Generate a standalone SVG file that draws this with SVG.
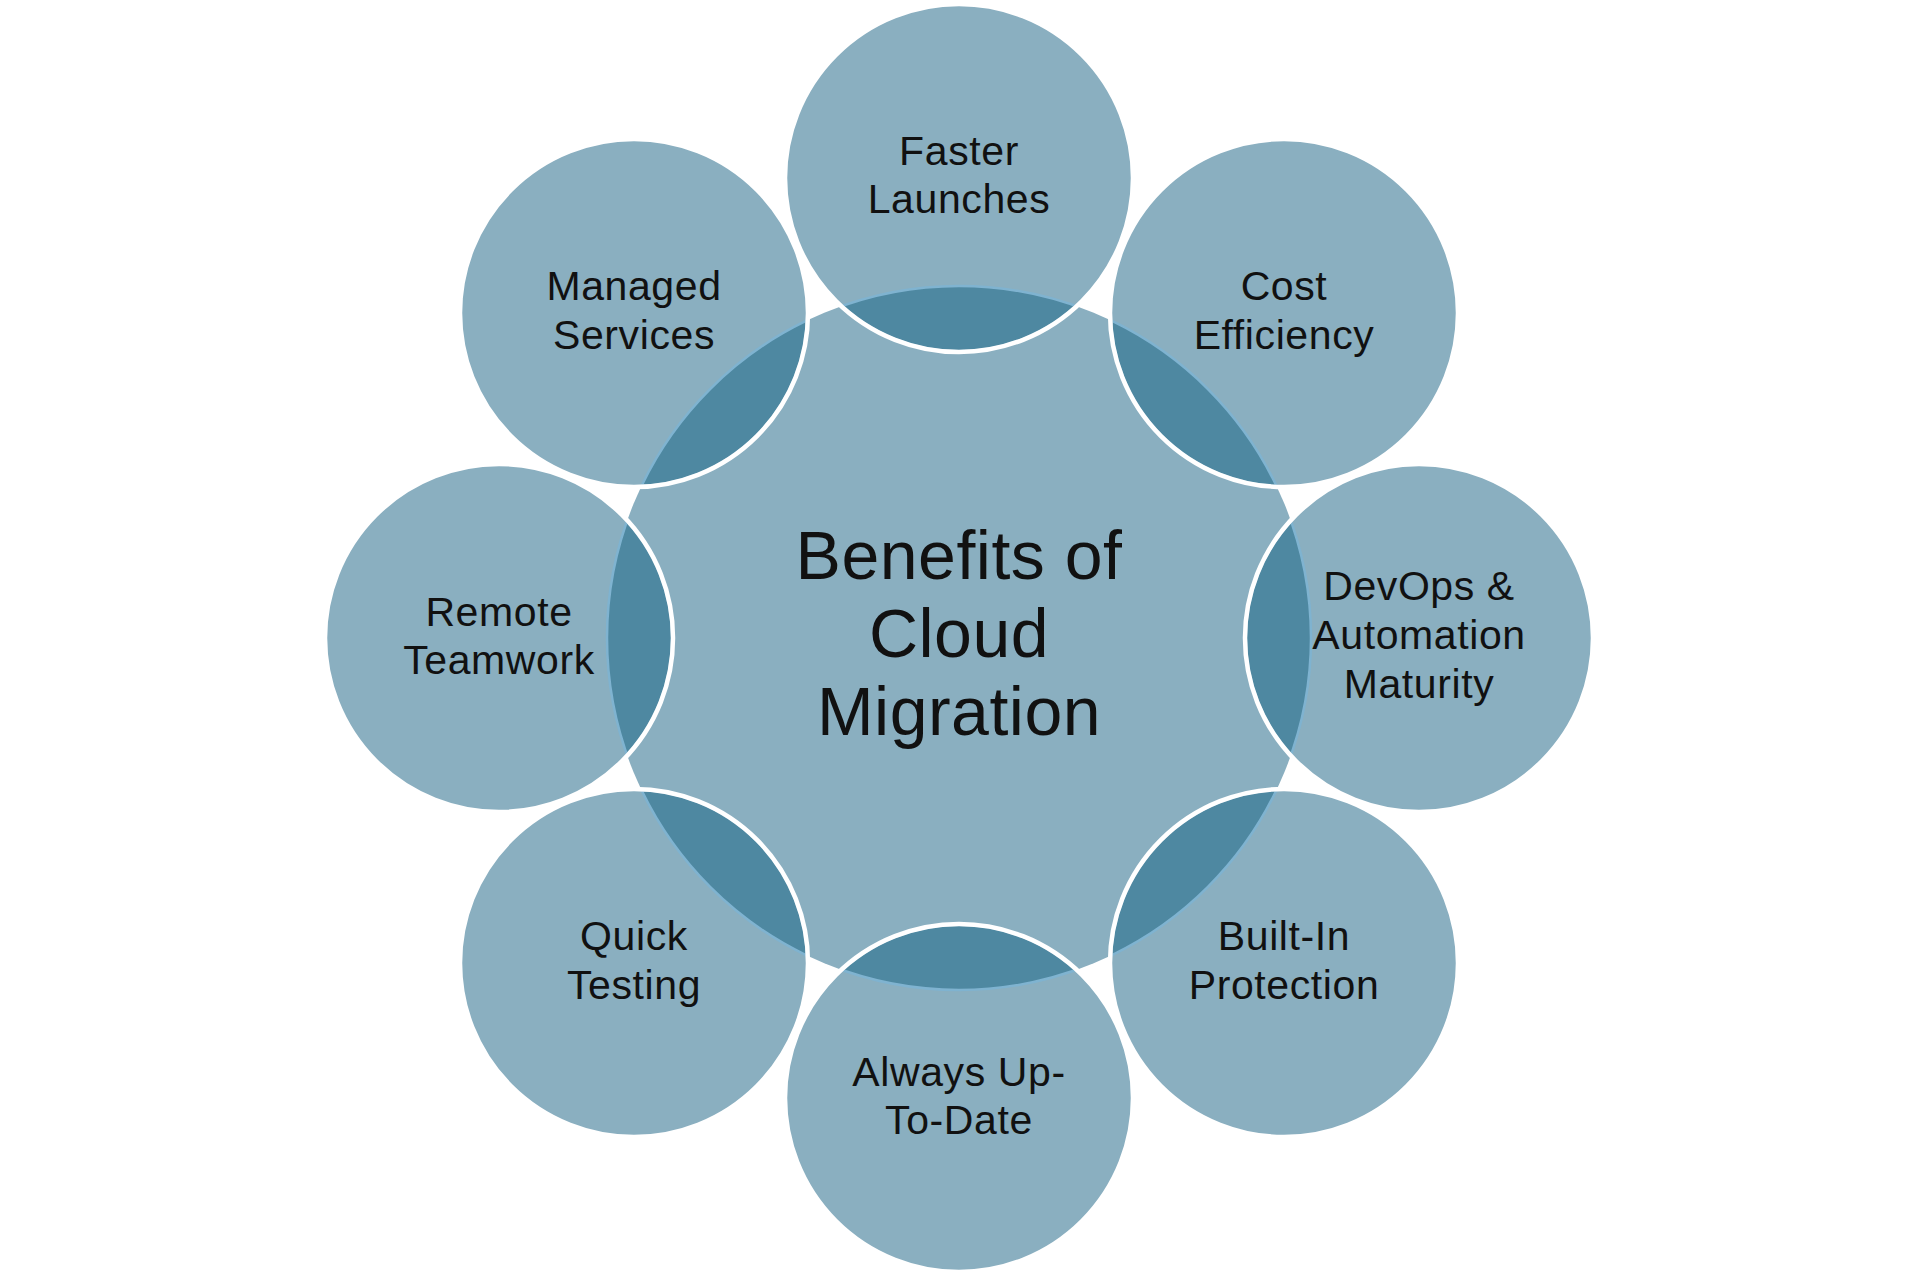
<svg xmlns="http://www.w3.org/2000/svg" width="1920" height="1283" viewBox="0 0 1920 1283">
<style>
.fill{fill:#8aafc0}
.lens{fill:#4e88a1}
.edge{fill:none;stroke:#7fb3d0;stroke-width:2.5}
.ring{fill:none;stroke:#ffffff;stroke-width:4.5}
.lbl{font-family:"Liberation Sans",Arial,sans-serif;font-size:41px;letter-spacing:0.6px;fill:#111111;text-anchor:middle}
.title{font-family:"Liberation Sans",Arial,sans-serif;font-size:68px;letter-spacing:0.5px;fill:#111111;text-anchor:middle}
</style>
<defs>
<circle id="hubShape" cx="959" cy="638" r="352"/>
<clipPath id="c0"><circle cx="959" cy="178" r="172"/></clipPath>
<clipPath id="c1"><circle cx="1284" cy="313" r="172"/></clipPath>
<clipPath id="c2"><circle cx="1419" cy="638" r="172"/></clipPath>
<clipPath id="c3"><circle cx="1284" cy="963" r="172"/></clipPath>
<clipPath id="c4"><circle cx="959" cy="1098" r="172"/></clipPath>
<clipPath id="c5"><circle cx="634" cy="963" r="172"/></clipPath>
<clipPath id="c6"><circle cx="499" cy="638" r="172"/></clipPath>
<clipPath id="c7"><circle cx="634" cy="313" r="172"/></clipPath>
</defs>
<rect width="1920" height="1283" fill="#ffffff"/>

<g id="hub">
<use href="#hubShape" class="fill"/>
<text class="title" x="959" y="579">Benefits of</text>
<text class="title" x="959" y="657">Cloud</text>
<text class="title" x="959" y="735">Migration</text>
</g>

<g id="node-faster-launches">
<circle class="fill" cx="959" cy="178" r="174"/>
<g clip-path="url(#c0)"><use href="#hubShape" class="lens"/><use href="#hubShape" class="edge"/></g>
<circle class="ring" cx="959" cy="178" r="174"/>
<text class="lbl" x="959" y="165">Faster</text>
<text class="lbl" x="959" y="213">Launches</text>
</g>

<g id="node-cost-efficiency">
<circle class="fill" cx="1284" cy="313" r="174"/>
<g clip-path="url(#c1)"><use href="#hubShape" class="lens"/><use href="#hubShape" class="edge"/></g>
<circle class="ring" cx="1284" cy="313" r="174"/>
<text class="lbl" x="1284" y="300">Cost</text>
<text class="lbl" x="1284" y="349">Efficiency</text>
</g>

<g id="node-devops">
<circle class="fill" cx="1419" cy="638" r="174"/>
<g clip-path="url(#c2)"><use href="#hubShape" class="lens"/><use href="#hubShape" class="edge"/></g>
<circle class="ring" cx="1419" cy="638" r="174"/>
<text class="lbl" x="1419" y="600">DevOps &amp;</text>
<text class="lbl" x="1419" y="649">Automation</text>
<text class="lbl" x="1419" y="698">Maturity</text>
</g>

<g id="node-built-in-protection">
<circle class="fill" cx="1284" cy="963" r="174"/>
<g clip-path="url(#c3)"><use href="#hubShape" class="lens"/><use href="#hubShape" class="edge"/></g>
<circle class="ring" cx="1284" cy="963" r="174"/>
<text class="lbl" x="1284" y="950">Built-In</text>
<text class="lbl" x="1284" y="999">Protection</text>
</g>

<g id="node-always-up-to-date">
<circle class="fill" cx="959" cy="1098" r="174"/>
<g clip-path="url(#c4)"><use href="#hubShape" class="lens"/><use href="#hubShape" class="edge"/></g>
<circle class="ring" cx="959" cy="1098" r="174"/>
<text class="lbl" x="959" y="1086">Always Up-</text>
<text class="lbl" x="959" y="1134">To-Date</text>
</g>

<g id="node-quick-testing">
<circle class="fill" cx="634" cy="963" r="174"/>
<g clip-path="url(#c5)"><use href="#hubShape" class="lens"/><use href="#hubShape" class="edge"/></g>
<circle class="ring" cx="634" cy="963" r="174"/>
<text class="lbl" x="634" y="950">Quick</text>
<text class="lbl" x="634" y="999">Testing</text>
</g>

<g id="node-remote-teamwork">
<circle class="fill" cx="499" cy="638" r="174"/>
<g clip-path="url(#c6)"><use href="#hubShape" class="lens"/><use href="#hubShape" class="edge"/></g>
<circle class="ring" cx="499" cy="638" r="174"/>
<text class="lbl" x="499" y="626">Remote</text>
<text class="lbl" x="499" y="674">Teamwork</text>
</g>

<g id="node-managed-services">
<circle class="fill" cx="634" cy="313" r="174"/>
<g clip-path="url(#c7)"><use href="#hubShape" class="lens"/><use href="#hubShape" class="edge"/></g>
<circle class="ring" cx="634" cy="313" r="174"/>
<text class="lbl" x="634" y="300">Managed</text>
<text class="lbl" x="634" y="349">Services</text>
</g>
</svg>
